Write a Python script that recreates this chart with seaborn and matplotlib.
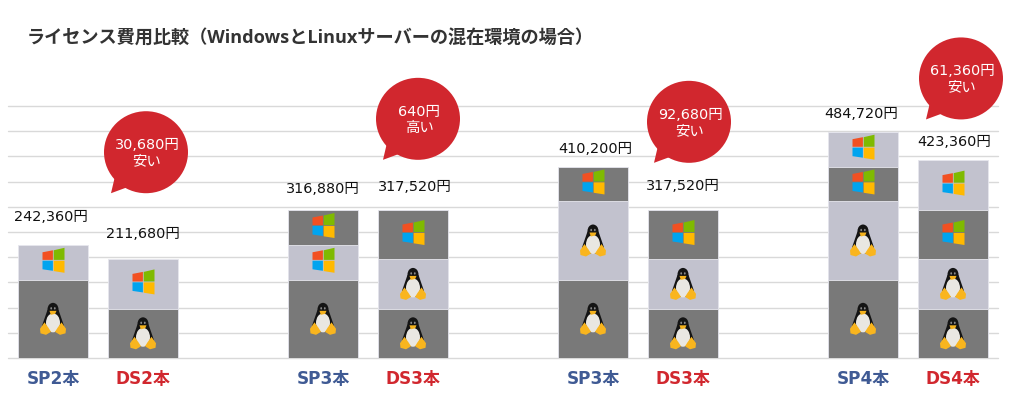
import pandas as pd
import seaborn as sns
import matplotlib
matplotlib.use("Agg")
import matplotlib.pyplot as plt
from matplotlib.patches import Ellipse, Polygon
from matplotlib.transforms import Affine2D

title = "ライセンス費用比較（WindowsとLinuxサーバーの混在環境の場合）"
labels = ["SP2本", "DS2本", "SP3本", "DS3本", "SP3本", "DS3本", "SP4本", "DS4本"]
slots = [0, 1, 3, 4, 6, 7, 9, 10]
totals = ["242,360円", "211,680円", "316,880円", "317,520円",
          "410,200円", "317,520円", "484,720円", "423,360円"]

# stack segments, bottom to top
layer1 = [167840, 105840, 167840, 105840, 167840, 105840, 167840, 105840]
layer2 = [74520, 105840, 74520, 105840, 167840, 105840, 167840, 105840]
layer3 = [0, 0, 74520, 105840, 74520, 105840, 74520, 105840]
layer4 = [0, 0, 0, 0, 0, 0, 74520, 105840]
icons1 = ["L", "L", "L", "L", "L", "L", "L", "L"]
icons2 = ["W", "W", "W", "L", "L", "L", "L", "L"]
icons3 = ["", "", "W", "W", "W", "W", "W", "W"]
icons4 = ["", "", "", "", "", "", "W", "W"]
shades = ["dark", "light", "dark", "light"]

bubble_text = ["30,680円\n安い", "640円\n高い", "92,680円\n安い", "61,360円\n安い"]

# px offsets, not data
label_rise = [28, 25, 21, 23, 18, 24, 18, 18]
label_shift = [-2, 0, 0, 2, 2, 0, -2, 1]
bubble_rise = [107, 91, 88, 82]
bubble_shift = [3, 5, 6, 8]

DARK = "#797979"
LIGHT = "#c2c2ce"
RED = "#d1272e"
BLUE = "#3f5a94"

sns.set_theme(style="whitegrid")
plt.rcParams["font.family"] = ["DejaVu Sans", "Noto Sans CJK JP"]

fig = plt.figure(figsize=(10.1, 4.2), dpi=100)
ax = fig.add_axes([8 / 1010, 62 / 420, 990 / 1010, 252 / 420])

layers = [layer1, layer2, layer3, layer4]
cum = [0] * len(slots)
stacks = []
for i, layer in enumerate(layers):
    cum = [c + v for c, v in zip(cum, layer)]
    stacks.append(pd.DataFrame({"slot": slots, "top": cum, "seg": layer, "shade": shades[i]}))

# tallest first so the lower segments paint over it
for df in reversed(stacks):
    df = df[df["seg"] > 0]
    sns.barplot(data=df, x="slot", y="top", hue="shade", order=list(range(11)),
                palette={"dark": DARK, "light": LIGHT}, dodge=False, width=70 / 90,
                saturation=1, edgecolor="#e6e6ee", linewidth=0.6, legend=False, ax=ax)

ax.set_xlim(-0.5, 10.5)
ax.set_ylim(0, 540000)
ax.set_yticks(range(0, 540001, 54000))
ax.set_yticklabels([])
ax.set_xlabel("")
ax.set_ylabel("")
ax.grid(axis="y", color="#d9d9d9", linewidth=1)
ax.grid(axis="x", visible=False)
ax.set_axisbelow(True)
for line in ax.get_ygridlines():
    line.set_clip_on(False)
for s in ax.spines.values():
    s.set_visible(False)

ax.set_xticks(slots)
ax.set_xticklabels(labels, fontsize=12.2, fontweight="bold")
ax.tick_params(axis="x", length=0, pad=9)
ax.tick_params(axis="y", length=0)
for tick, name in zip(ax.get_xticklabels(), labels):
    tick.set_color(BLUE if name.startswith("SP") else RED)


def at_px(x, y):
    return Affine2D().translate(*ax.transData.transform((x, y)))


def draw_windows(x, y):
    t = at_px(x, y) + Affine2D().translate(0.5, 2)
    panes = [
        ([(-11, 8), (-0.6, 10), (-0.6, 0.4), (-11, 0.4)], "#f25022"),
        ([(0.2, 10), (11, 12.5), (11, 0.4), (0.2, 0.4)], "#7fba00"),
        ([(-11, -0.4), (-0.6, -0.4), (-0.6, -10.5), (-11, -9)], "#00a4ef"),
        ([(0.2, -0.4), (11, -0.4), (11, -12.5), (0.2, -10.8)], "#ffb900"),
    ]
    for pts, color in panes:
        ax.add_patch(Polygon(pts, closed=True, facecolor=color, edgecolor="none",
                             transform=t, clip_on=False, zorder=4))


def draw_penguin(x, y):
    t = at_px(x, y)
    kw = dict(transform=t, clip_on=False, zorder=4, edgecolor="none")
    # head and body
    ax.add_patch(Ellipse((0, 9.5), 11, 13, facecolor="#141414", **kw))
    ax.add_patch(Polygon([(-5.5, 9), (5.5, 9), (11, -7), (9, -13), (-9, -13), (-11, -7)],
                         facecolor="#141414", **kw))
    ax.add_patch(Ellipse((0, -4), 14, 19, facecolor="#e9e7e2", **kw))
    ax.add_patch(Ellipse((-1.8, 10.5), 1.8, 2.4, facecolor="#8a8a8a", **kw))
    ax.add_patch(Ellipse((1.8, 10.5), 1.8, 2.4, facecolor="#8a8a8a", **kw))
    ax.add_patch(Polygon([(-3.5, 8), (3.5, 8), (2.2, 5), (-2.2, 4)], facecolor="#f3b11c", **kw))
    # feet
    ax.add_patch(Polygon([(-13, -10), (-8.5, -3.5), (-4.5, -9), (-2, -13), (-7, -16), (-12.5, -14.5)],
                         facecolor="#f9b51e", **kw))
    ax.add_patch(Polygon([(13, -10), (8.5, -3.5), (4.5, -9), (2, -13), (7, -16), (12.5, -14.5)],
                         facecolor="#f9b51e", **kw))


bases = [0] * len(slots)
for layer, icons in zip(layers, [icons1, icons2, icons3, icons4]):
    for i, (slot, v, kind) in enumerate(zip(slots, layer, icons)):
        if kind == "W":
            draw_windows(slot, bases[i] + v / 2)
        elif kind == "L":
            draw_penguin(slot, bases[i] + v / 2)
    bases = [b + v for b, v in zip(bases, layer)]

for i, (slot, top, txt) in enumerate(zip(slots, bases, totals)):
    ax.annotate(txt, (slot, top), xytext=(label_shift[i], label_rise[i]),
                textcoords="offset pixels", ha="center", va="center",
                fontsize=10.4, color="#111111", annotation_clip=False)

for i, txt in enumerate(bubble_text):
    k = 2 * i + 1
    t = at_px(slots[k], bases[k]) + Affine2D().translate(bubble_shift[i], bubble_rise[i])
    ax.add_patch(Ellipse((0, 0), 84, 82, facecolor=RED, edgecolor="none", transform=t,
                         clip_on=False, zorder=5))
    ax.add_patch(Polygon([(-31, -24), (-35, -41), (-16, -34)], facecolor=RED, edgecolor="none",
                         transform=t, clip_on=False, zorder=5))
    ax.text(1, -1, txt, transform=t, ha="center", va="center", color="white", fontsize=10.4,
            linespacing=1.2, zorder=6)

fig.text(27 / 1010, 1 - 38 / 420, title, ha="left", va="center", fontsize=13.1,
         fontweight="bold", color="#333333", family=["Open Sans", "Noto Sans CJK JP"])

fig.savefig("out.png", dpi=100, facecolor="white")
